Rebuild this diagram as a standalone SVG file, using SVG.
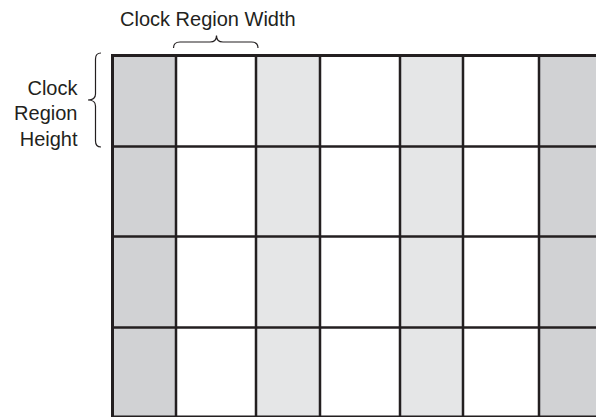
<svg xmlns="http://www.w3.org/2000/svg" width="596" height="417" viewBox="0 0 596 417">
<style>
.lbl{font-family:"Liberation Sans",Arial,sans-serif;font-size:20px;fill:#231f20}
.dk{fill:#d1d2d4}
.lt{fill:#e5e6e7}
.ln{stroke:#231f20;stroke-width:2.5;fill:none}
.br{stroke:#231f20;stroke-width:1.2;fill:none}
</style>
<rect width="596" height="417" fill="#ffffff"/>
<g id="fills">
<rect class="dk" x="112" y="55" width="64" height="362"/>
<rect class="lt" x="256" y="55" width="64" height="362"/>
<rect class="lt" x="400" y="55" width="63" height="362"/>
<rect class="dk" x="539" y="55" width="57" height="362"/>
</g>
<g id="grid">
<line class="ln" x1="176" y1="55" x2="176" y2="417"/>
<line class="ln" x1="256" y1="55" x2="256" y2="417"/>
<line class="ln" x1="320" y1="55" x2="320" y2="417"/>
<line class="ln" x1="400" y1="55" x2="400" y2="417"/>
<line class="ln" x1="463" y1="55" x2="463" y2="417"/>
<line class="ln" x1="539" y1="55" x2="539" y2="417"/>
<line class="ln" x1="111" y1="146.5" x2="596" y2="146.5"/>
<line class="ln" x1="111" y1="236.5" x2="596" y2="236.5"/>
<line class="ln" x1="111" y1="327.5" x2="596" y2="327.5"/>
<line class="ln" x1="111" y1="416.8" x2="596" y2="416.8" stroke="#555"/>
<line class="ln" style="stroke-width:3" x1="111" y1="55.5" x2="596" y2="55.5"/>
<line class="ln" style="stroke-width:3" x1="112.5" y1="54" x2="112.5" y2="417"/>
</g>
<g id="width-label">
<text class="lbl" x="120" y="26">Clock Region Width</text>
<path class="br" d="M173.5,48 Q173.5,42 180,42 L210,42 Q216.5,42 216.5,35.5 Q216.5,42 223,42 L251.5,42 Q258,42 258,48"/>
</g>
<g id="height-label">
<text class="lbl" x="77.5" y="94.5" text-anchor="end">Clock</text>
<text class="lbl" x="77.5" y="120" text-anchor="end">Region</text>
<text class="lbl" x="77.5" y="145.5" text-anchor="end">Height</text>
<path class="br" d="M101,53 Q95.5,53 95.5,59 L95.5,94 Q95.5,100 88,100 Q95.5,100 95.5,106 L95.5,141 Q95.5,147 101,147"/>
</g>
</svg>
